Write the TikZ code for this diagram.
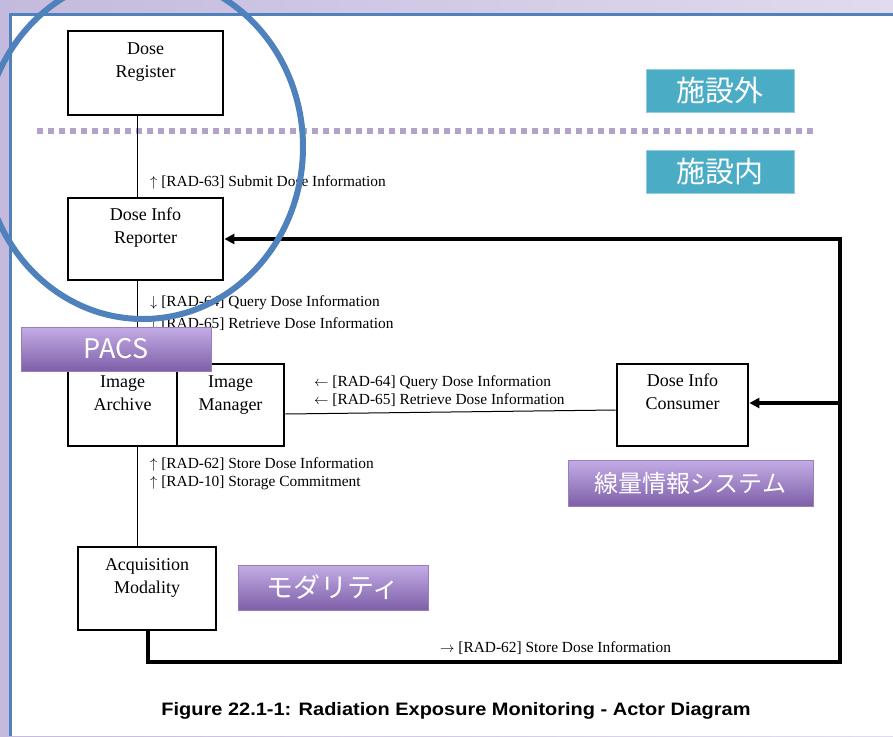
\documentclass[tikz,border=0pt]{standalone}
\usepackage{fontspec}
\setmainfont{Liberation Serif}
\newfontfamily\cjk{Noto Sans CJK JP}
\newfontfamily\capfont{Liberation Sans}
\usetikzlibrary{arrows.meta}
\definecolor{frameblue}{HTML}{4F81BD}
\definecolor{lav}{HTML}{C4BADD}
\definecolor{lavlight}{HTML}{E0DBEE}
\definecolor{dotpurple}{HTML}{B3A2C7}
\definecolor{tealbox}{HTML}{4BACC6}
\definecolor{ptop}{HTML}{C4ADE6}
\definecolor{pbot}{HTML}{7E5FA8}
\begin{document}
\begin{tikzpicture}[x=1pt,y=-1pt,
  actor/.style={draw,line width=2.8pt,inner sep=0pt},
  boxtxt/.style={align=center,font=\fontsize{18}{23}\selectfont},
  lbl/.style={anchor=base west,inner sep=0pt,font=\fontsize{15.4}{18}\selectfont},
  conn/.style={line width=1pt},
  loop/.style={line width=3.2pt},
  tip/.style={-{Triangle[length=10pt,width=10pt]}},
  purplebox/.style={top color=ptop,bottom color=pbot,draw=pbot!80,line width=0.6pt,
    text=white,font=\cjk\fontsize{24}{26}\selectfont,inner sep=0pt},
  tealtag/.style={fill=tealbox,draw=tealbox!60,line width=0.5pt,text=white,
    font=\cjk\fontsize{29}{30}\selectfont,inner sep=0pt,minimum width=148pt,minimum height=43pt}]
\useasboundingbox (0,0) rectangle (893,736);
% background
\fill[left color=lav,right color=lavlight] (0,0) rectangle (893,736);
\fill[white] (11,15) rectangle (893,736);
\draw[frameblue,line width=3pt] (10,736) -- (10,14) -- (893,14);
% dotted boundary
\draw[dotpurple,line width=5.5pt,dash pattern=on 5.5pt off 5.5pt] (37,131) -- (815,131);
% actors
\node[actor,minimum width=155pt,minimum height=84pt] (reg) at (145.5,73) {};
\node[boxtxt] (regt) at (145.5,61) {Dose\strut\\Register\strut};
\node[actor,minimum width=155pt,minimum height=82pt] (rep) at (145.5,239) {};
\node[boxtxt] (rept) at (145.5,227) {Dose Info\strut\\Reporter\strut};
\node[actor,minimum width=216pt,minimum height=82pt] (img) at (176,405) {};
\node[boxtxt] (iat) at (122.5,394) {Image\strut\\Archive\strut};
\node[boxtxt] (imt) at (230.5,394) {Image\strut\\Manager\strut};
\node[actor,minimum width=131pt,minimum height=82pt] (con) at (682.5,405) {};
\node[boxtxt] (cont) at (682.5,393) {Dose Info\strut\\Consumer\strut};
\node[actor,minimum width=138pt,minimum height=83pt] (acq) at (147,588.5) {};
\node[boxtxt] (acqt) at (147,577) {Acquisition\strut\\Modality\strut};
% helper coordinates
\coordinate (cx) at (137,0);
\coordinate (dv) at (177,0);
\coordinate (bl) at (148,662);
\coordinate (br) at (840,662);
\coordinate (tr) at (840,239);
\coordinate (mr) at (840,403);
% connectors
\draw[line width=2.2pt] (dv |- img.north) -- (dv |- img.south);
\draw[conn] (cx |- reg.south) -- (cx |- rep.north);
\draw[conn] (cx |- rep.south) -- (cx |- img.north);
\draw[conn] (cx |- img.south) -- (cx |- acq.north);
\draw[conn] ([yshift=-9pt]img.east) -- ([yshift=-5pt]con.west);
\draw[loop,tip] (bl |- acq.south) -- (bl) -- (br) -- (tr) -- (rep.east);
\draw[loop,tip] (mr) -- (mr -| con.east);
% transaction labels
\node[lbl] (l63) at (150,186) {$\uparrow$ [RAD-63] Submit Dose Information};
\node[lbl] (l64a) at (150,306) {$\downarrow$ [RAD-64] Query Dose Information};
\node[lbl] (l65a) at (150,328) {$\downarrow$ [RAD-65] Retrieve Dose Information};
\node[lbl] (l64b) at (314,386) {$\leftarrow$ [RAD-64] Query Dose Information};
\node[lbl] (l65b) at (314,404) {$\leftarrow$ [RAD-65] Retrieve Dose Information};
\node[lbl] (l62a) at (150,468) {$\uparrow$ [RAD-62] Store Dose Information};
\node[lbl] (l10) at (150,486) {$\uparrow$ [RAD-10] Storage Commitment};
\node[lbl] (l62b) at (440,652) {$\rightarrow$ [RAD-62] Store Dose Information};
% tags
\node[tealtag] (out) at (720,90.5) {施設外};
\node[tealtag] (in) at (720,171.5) {施設内};
\node[purplebox,minimum width=190pt,minimum height=44pt,font=\cjk\fontsize{27}{28}\selectfont] (pacs) at (116,349) {PACS};
\node[purplebox,minimum width=245pt,minimum height=46pt] (dose) at (690.5,483) {線量情報システム};
\node[purplebox,minimum width=190pt,minimum height=45pt,font=\cjk\fontsize{27}{28}\selectfont] (mod) at (333,587.5) {モダリティ};
% caption
\node[font=\capfont\bfseries\fontsize{18}{21}\selectfont,xscale=1.11] (cap) at (456,711) {Figure 22.1-1: Radiation Exposure Monitoring - Actor Diagram};
% highlight circle
\draw[frameblue,line width=6pt] (143,147) ellipse [x radius=160pt,y radius=172pt];
\end{tikzpicture}
\end{document}
